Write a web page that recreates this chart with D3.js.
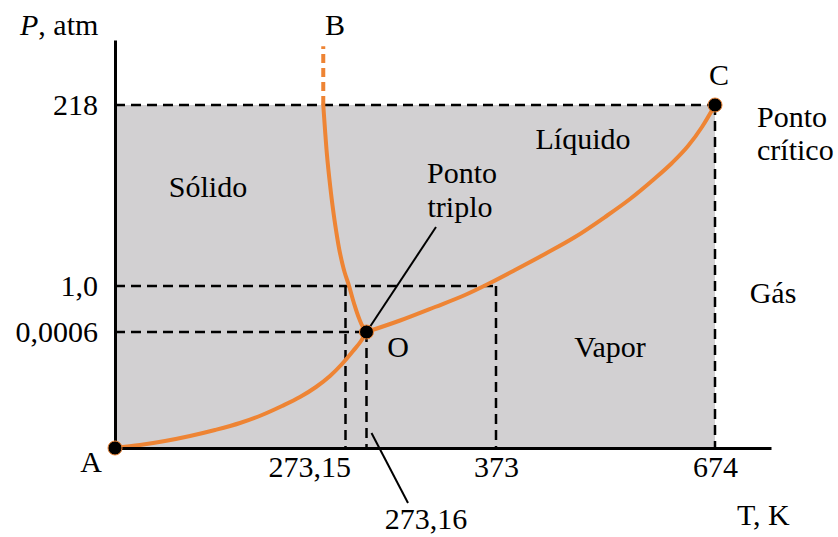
<!DOCTYPE html>
<html>
<head>
<meta charset="utf-8">
<script src="https://cdn.jsdelivr.net/npm/d3@7/dist/d3.min.js"></script>
<style>
  body { margin: 0; background: #fff; }
  text { font-family: "Liberation Serif", "Times New Roman", serif; font-size: 30px; fill: #000; }
</style>
</head>
<body>
<svg id="chart" width="838" height="537"></svg>
<script>
// Phase diagram of water (schematic, non-linear axes)

// Temperature (K) tick values and labels
const tTicks = [273.15, 373, 674];
const tTickLabels = ["273,15", "373", "674"];
const tTriple = 273.16;
const tTripleLabel = "273,16";

// Pressure (atm) tick values and labels
const pTicks = [0.0006, 1, 218];
const pTickLabels = ["0,0006", "1,0", "218"];

// Special points
const pointA = [0, 0];
const pointO = [273.16, 0.0006];
const pointC = [674, 218];

// Sublimation curve A -> O
const sublimationT = [0, 29.6, 59.3, 88.9, 118.5, 148.1, 174.2, 197.9, 219.2, 238.2, 254.8, 269.0, 273.1536, 273.1574, 273.16];
const sublimationP = [0, 0.0000155, 0.0000362, 0.0000621, 0.0000931, 0.0001293, 0.0001707, 0.0002172, 0.0002638, 0.0003155, 0.0003724, 0.0004345, 0.0005017, 0.0005534, 0.0006];

// Melting curve B -> O
const meltingT = [246.8, 248.9, 251.2, 254.2, 257.7, 261.9, 266.6, 272.0, 273.1517, 273.1540, 273.1564, 273.1583, 273.16];
const meltingP = [218, 188.0, 158.1, 128.1, 98.1, 68.1, 40.6, 17.8, 1.0, 0.6307, 0.3048, 0.1092, 0.0006];
// Dashed continuation of the melting curve towards B
const meltingExtT = [246.8, 246.8];
const meltingExtP = [218, 256];

// Vaporization curve O -> C
const vaporT = [273.16, 299.03, 325.97, 349.10, 368.38, 399.1, 440.3, 481.6, 522.8, 557.2, 588.8, 614.9, 636.9, 656.1, 674];
const vaporP = [0.0006, 0.2504, 0.5438, 0.8045, 4.60, 20.18, 39.4, 59.7, 83.7, 105.3, 128.1, 148.5, 168.8, 191.6, 218];

const orange = "#ee8434";
const gray = "#d2d0d2";

const svg = d3.select("#chart");

// Piecewise linear scales stretch the interesting regions of the diagram
const x = d3.scaleLinear()
  .domain([0, 273.15, 273.16, 373, 674, 760])
  .range([115, 345.5, 366.5, 496, 715, 771]);
const y = d3.scaleLinear()
  .domain([0, 0.0006, 1, 218, 260])
  .range([448, 332, 286, 105, 40]);

// Shaded region below the critical pressure and temperature
svg.append("rect")
  .attr("x", x(0))
  .attr("y", y(pointC[1]))
  .attr("width", x(pointC[0]) - x(0))
  .attr("height", y(0) - y(pointC[1]))
  .attr("fill", gray);

// Dashed reference lines
const dashed = svg.append("g")
  .attr("stroke", "#000")
  .attr("stroke-width", 2.5)
  .attr("stroke-dasharray", "10,6")
  .attr("fill", "none");
const seg = (x1, y1, x2, y2) => dashed.append("line")
  .attr("x1", x1).attr("y1", y1).attr("x2", x2).attr("y2", y2);

seg(x(0), y(218), x(674), y(218));
seg(x(674), y(218), x(674), y(0));
seg(x(0), y(1), x(373), y(1));
seg(x(273.15), y(1), x(273.15), y(0));
seg(x(373), y(1), x(373), y(0));
seg(x(0), y(0.0006), x(tTriple), y(0.0006));
seg(x(tTriple), y(0.0006), x(tTriple), y(0));

// Phase boundary curves
const zipPts = (ts, ps) => ts.map((t, i) => [t, ps[i]]);
const lineX = d3.line().x(d => x(d[0])).y(d => y(d[1])).curve(d3.curveMonotoneX);
const lineY = d3.line().x(d => x(d[0])).y(d => y(d[1])).curve(d3.curveMonotoneY);

const curves = svg.append("g")
  .attr("fill", "none")
  .attr("stroke", orange)
  .attr("stroke-width", 4)
  .attr("stroke-linecap", "round");

curves.append("path").attr("d", lineX(zipPts(sublimationT, sublimationP)));
curves.append("path").attr("d", lineY(zipPts(meltingT, meltingP)));
curves.append("path").attr("d", lineX(zipPts(vaporT, vaporP)));
curves.append("path")
  .attr("d", d3.line().x(d => x(d[0])).y(d => y(d[1]))(zipPts(meltingExtT, meltingExtP)))
  .attr("stroke-dasharray", "9,5")
  .attr("stroke-linecap", "butt");

// Axes
const xAxis = d3.axisBottom(x)
  .tickValues(tTicks)
  .tickFormat((d, i) => tTickLabels[i])
  .tickSize(0)
  .tickSizeOuter(0)
  .tickPadding(8);
const gx = svg.append("g")
  .attr("transform", `translate(0,${y(0)})`)
  .call(xAxis);
gx.select(".domain").attr("stroke", "#000").attr("stroke-width", 3);
gx.selectAll(".tick text")
  .style("font-size", "30px")
  .style("font-family", "Liberation Serif, serif")
  .attr("fill", "#000")
  .filter(d => d === 273.15)
  .attr("text-anchor", "end")
  .attr("dx", 5);

const yAxis = d3.axisLeft(y)
  .tickValues(pTicks)
  .tickFormat((d, i) => pTickLabels[i])
  .tickSize(0)
  .tickSizeOuter(0)
  .tickPadding(17);
const gy = svg.append("g")
  .attr("transform", `translate(${x(0)},0)`)
  .call(yAxis);
gy.select(".domain").attr("stroke", "#000").attr("stroke-width", 3);
gy.selectAll(".tick text")
  .style("font-size", "30px")
  .style("font-family", "Liberation Serif, serif")
  .attr("fill", "#000")
  .attr("dy", "0.3em");

// Pointer lines
const pointers = svg.append("g").attr("stroke", "#000").attr("stroke-width", 2);
pointers.append("line")
  .attr("x1", x(pointO[0]) + 2).attr("y1", y(pointO[1]) - 3)
  .attr("x2", 436).attr("y2", 227);
pointers.append("line")
  .attr("x1", x(tTriple) + 5).attr("y1", y(0) - 15)
  .attr("x2", 408).attr("y2", 503);

// Special points
svg.append("g")
  .selectAll("circle")
  .data([pointA, pointO, pointC])
  .join("circle")
  .attr("cx", d => x(d[0]))
  .attr("cy", d => y(d[1]))
  .attr("r", 7)
  .attr("fill", "#000")
  .attr("stroke", orange)
  .attr("stroke-width", 1);

// Labels
const label = (txt, lx, ly, anchor = "start") => svg.append("text")
  .attr("x", lx).attr("y", ly).attr("text-anchor", anchor).text(txt);

const pLabel = svg.append("text").attr("x", 20).attr("y", 35);
pLabel.append("tspan").attr("font-style", "italic").text("P");
pLabel.append("tspan").text(", atm");

label("T, K", 737, 525);
label(tTripleLabel, 426, 529, "middle");
label("A", 91, 472, "middle");
label("B", 335, 35, "middle");
label("C", 719, 85, "middle");
label("O", 398, 357, "middle");
label("Sólido", 208, 197, "middle");
label("Líquido", 583, 149, "middle");
label("Vapor", 610, 357, "middle");
label("Gás", 773, 303, "middle");
label("Ponto", 462, 183, "middle");
label("triplo", 460, 217, "middle");
label("Ponto", 757, 127);
label("crítico", 757, 160);
</script>
</body>
</html>
